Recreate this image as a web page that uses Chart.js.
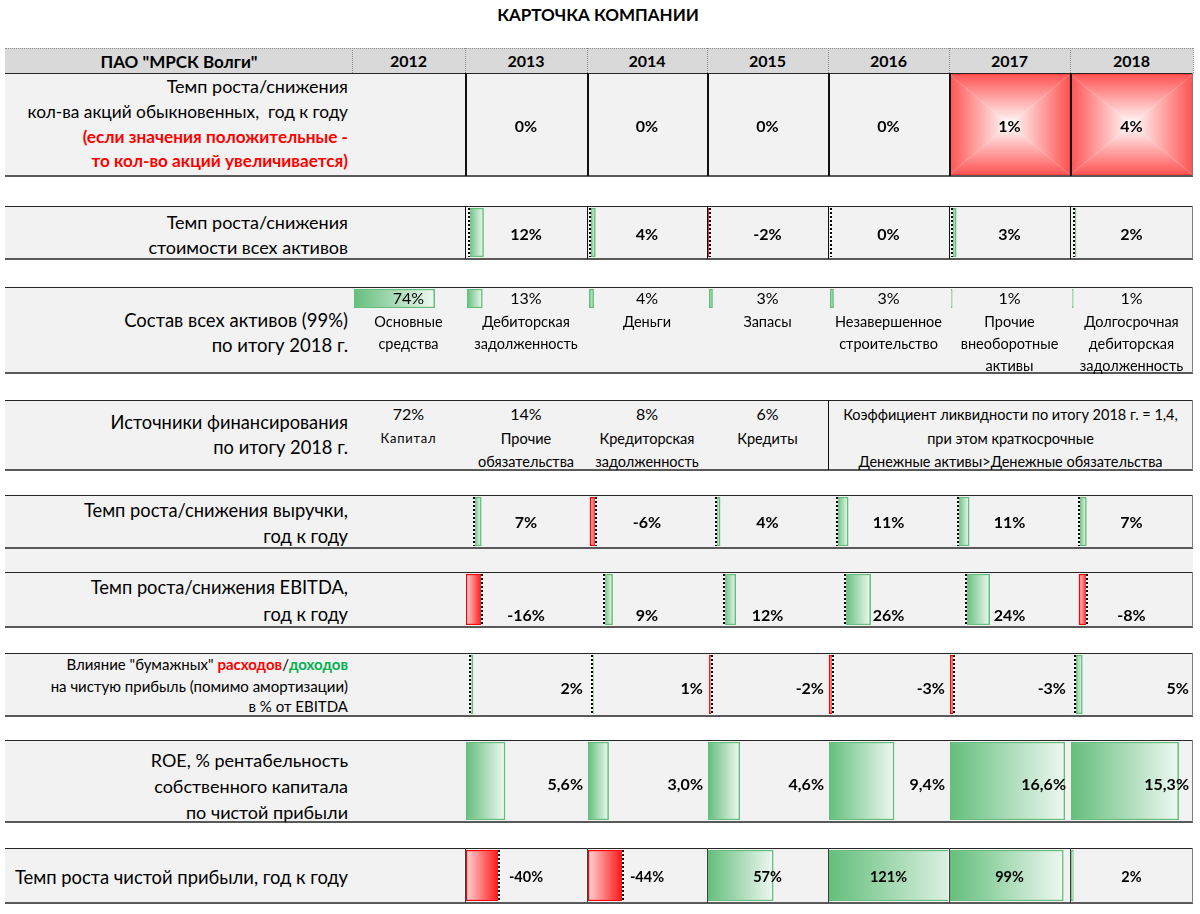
<!DOCTYPE html>
<html>
<head>
<meta charset="utf-8">
<script src="https://cdn.jsdelivr.net/npm/chart.js@4.4.1/dist/chart.umd.min.js"></script>
<style>
  body { margin: 0; background: #fff; font-family: Lato, "Noto Sans", sans-serif; }
  #card { position: relative; width: 1200px; height: 914px; overflow: hidden; }
  #card div, #card canvas { position: absolute; }
  .t { white-space: pre; line-height: 1; color: #000; }
</style>
</head>
<body>
<div id="card"></div>
<script>
// ===== DATA =====
const years = ["2012", "2013", "2014", "2015", "2016", "2017", "2018"];
const sharesGrowth = [null, 0, 0, 0, 0, 1, 4];
const assetsGrowth = [null, 12, 4, -2, 0, 3, 2];
const assetNames = ["Основные\nсредства", "Дебиторская\nзадолженность", "Деньги", "Запасы",
  "Незавершенное\nстроительство", "Прочие\nвнеоборотные\nактивы", "Долгосрочная\nдебиторская\nзадолженность"];
const assetShares = [74, 13, 4, 3, 3, 1, 1];
const fundingNames = ["Капитал", "Прочие\nобязательства", "Кредиторская\nзадолженность", "Кредиты"];
const fundingShares = [72, 14, 8, 6];
const liquidityNote = "Коэффициент ликвидности по итогу 2018 г. = 1,4,\nпри этом краткосрочные\nДенежные активы>Денежные обязательства";
const revenueGrowth = [null, 7, -6, 4, 11, 11, 7];
const ebitdaGrowth = [null, -16, 9, 12, 26, 24, -8];
const paperEffect = [null, 2, 1, -2, -3, -3, 5];
const roe = [null, 5.6, 3.0, 4.6, 9.4, 16.6, 15.3];
const netProfitGrowth = [null, -40, -44, 57, 121, 99, 2];

// ===== LAYOUT =====
const card = document.getElementById("card");
const colX = [5, 352, 465, 587, 707, 828, 949, 1070, 1193];
const GREEN = "#63be7b";
const RED = "#ff0000";

Chart.defaults.animation = false;
Chart.defaults.events = [];
Chart.defaults.plugins.legend.display = false;
Chart.defaults.plugins.tooltip.enabled = false;

function box(x, y, w, h, css) {
  const d = document.createElement("div");
  d.style.cssText = `left:${x}px;top:${y}px;width:${w}px;height:${h}px;${css || ""}`;
  card.appendChild(d);
  return d;
}

// text centred vertically on y; align: left / right / center around x
function text(str, x, y, o) {
  o = o || {};
  const d = document.createElement("div");
  d.className = "t";
  d.style.fontSize = (o.size || 16) + "px";
  d.style.fontWeight = o.bold ? "700" : "400";
  if (o.color) d.style.color = o.color;
  if (o.spacing) d.style.letterSpacing = o.spacing + "px";
  if (o.lh) d.style.lineHeight = o.lh + "px";
  d.style.top = y + "px";
  if (o.align === "right") {
    d.style.right = (1200 - x) + "px";
    d.style.textAlign = "right";
    d.style.transform = "translateY(-50%)";
  } else if (o.align === "left") {
    d.style.left = x + "px";
    d.style.transform = "translateY(-50%)";
  } else {
    d.style.left = x + "px";
    d.style.textAlign = "center";
    d.style.transform = "translate(-50%,-50%)";
  }
  if (o.html) d.innerHTML = str; else d.textContent = str;
  card.appendChild(d);
  return d;
}

function rowFrame(top, bottom) {
  box(colX[0], top, colX[8] - colX[0], bottom - top, "background:#f2f2f2");
}
function rowBorders(top, bottom) {
  box(colX[0], top, colX[8] - colX[0], 1, "background:#262626");
  box(colX[0], bottom - 1, colX[8] - colX[0], 2, "background:#595959");
  box(colX[8] - 1, top, 1, bottom - top, "background:#7f7f7f");
}
function separators(top, bottom, cols, css) {
  cols.forEach(c => box(colX[c], top, 1, bottom - top, css));
}
function colCenter(i) { return (colX[i + 1] + colX[i + 2]) / 2; }
function pct(v) { return v + "%"; }
function pct1(v) { return v.toFixed(1).replace(".", ",") + "%"; }

// ===== CHART.JS DATA BARS =====
const zeroAxis = {
  id: "zeroAxis",
  afterDatasetsDraw(chart) {
    const s = chart.scales.x;
    if (s.min >= 0) return;
    const x = Math.round(s.getPixelForValue(0));
    const { top, bottom } = chart.chartArea;
    const ctx = chart.ctx;
    ctx.save();
    ctx.fillStyle = "#ffffff";
    ctx.fillRect(x - 1, top, 2, bottom - top);
    ctx.strokeStyle = "#000";
    ctx.lineWidth = 2;
    ctx.setLineDash([2, 2]);
    ctx.beginPath();
    ctx.moveTo(x, top);
    ctx.lineTo(x, bottom);
    ctx.stroke();
    ctx.restore();
  }
};

function barFill(ctx) {
  const chart = ctx.chart;
  if (!chart.chartArea) return GREEN;
  const s = chart.scales.x;
  const v = ctx.raw;
  const x0 = s.getPixelForValue(0);
  const x1 = s.getPixelForValue(v);
  const g = chart.ctx.createLinearGradient(x0, 0, x1 === x0 ? x0 + 1 : x1, 0);
  if (v >= 0) {
    g.addColorStop(0, "#63be7b");
    g.addColorStop(1, "#eef8f1");
  } else {
    g.addColorStop(0, "#ff1010");
    g.addColorStop(1, "#ffd6d6");
  }
  return g;
}

function dataBar(x, y, w, h, value, min, max) {
  const canvas = document.createElement("canvas");
  canvas.width = w;
  canvas.height = h;
  canvas.style.cssText = `left:${x}px;top:${y}px;width:${w}px;height:${h}px`;
  card.appendChild(canvas);
  return new Chart(canvas.getContext("2d"), {
    type: "bar",
    data: {
      labels: [""],
      datasets: [{
        data: [value],
        backgroundColor: barFill,
        borderColor: c => (c.raw < 0 ? RED : GREEN),
        borderWidth: 1.5,
        borderSkipped: false,
        barPercentage: 1,
        categoryPercentage: 1
      }]
    },
    options: {
      indexAxis: "y",
      responsive: false,
      layout: { padding: 0 },
      scales: {
        x: { type: "linear", display: false, min: min, max: max },
        y: { display: false }
      }
    },
    plugins: [zeroAxis]
  });
}

// red "from centre" fill for cells where the share count grew
const growthCell = {
  id: "growthCell",
  beforeDatasetsDraw(chart) {
    const v = chart.data.datasets[0].data[0];
    if (!(v > 0)) return;
    const { left, top, right, bottom } = chart.chartArea;
    const cx = (left + right) / 2, cy = (top + bottom) / 2;
    const ctx = chart.ctx;
    const parts = [
      [[left, top], [right, top], [0, top, 0, cy]],
      [[right, bottom], [left, bottom], [0, bottom, 0, cy]],
      [[left, bottom], [left, top], [left, 0, cx, 0]],
      [[right, top], [right, bottom], [right, 0, cx, 0]]
    ];
    ctx.save();
    parts.forEach(([a, b, gl]) => {
      const g = ctx.createLinearGradient(gl[0], gl[1], gl[2], gl[3]);
      g.addColorStop(0, "#ff5252");
      g.addColorStop(1, "#ffffff");
      ctx.fillStyle = g;
      ctx.beginPath();
      ctx.moveTo(a[0], a[1]);
      ctx.lineTo(b[0], b[1]);
      ctx.lineTo(cx, cy);
      ctx.closePath();
      ctx.fill();
    });
    ctx.strokeStyle = "#ff4040";
    ctx.lineWidth = 1;
    ctx.strokeRect(left + 0.5, top + 0.5, right - left - 1, bottom - top - 1);
    ctx.restore();
  }
};

function heatCell(x, y, w, h, value) {
  const canvas = document.createElement("canvas");
  canvas.width = w;
  canvas.height = h;
  canvas.style.cssText = `left:${x}px;top:${y}px;width:${w}px;height:${h}px`;
  card.appendChild(canvas);
  return new Chart(canvas.getContext("2d"), {
    type: "bar",
    data: { labels: [""], datasets: [{ data: [value], backgroundColor: "transparent", borderWidth: 0 }] },
    options: {
      indexAxis: "y",
      responsive: false,
      layout: { padding: 0 },
      scales: { x: { display: false, min: 0, max: 1 }, y: { display: false } }
    },
    plugins: [growthCell]
  });
}

// one data bar per year cell of a row
function barRow(values, top, bottom, range) {
  values.forEach((v, i) => {
    if (v === null) return;
    const x = colX[i + 1] + 1;
    const w = colX[i + 2] - colX[i + 1] - 2;
    const min = typeof range.min === "function" ? range.min(v) : range.min;
    dataBar(x, top + 2, w, bottom - top - 4, v, min, range.max);
  });
}

// ===== TITLE & HEADER =====
text("КАРТОЧКА КОМПАНИИ", 598, 14, { size: 17, bold: true });

box(colX[0], 48, colX[8] - colX[0], 25, "background:#d9d9d9;border-top:1px dotted #8c8c8c;box-sizing:border-box");
for (let c = 1; c <= 8; c++) box(colX[c], 48, 1, 25, "border-left:1px dotted #8c8c8c;box-sizing:border-box");
text('ПАО "МРСК Волги"', 179, 61, { size: 17, bold: true });
years.forEach((y, i) => text(y, colCenter(i), 61, { size: 16, bold: true }));

// ===== ROW 1: share count growth =====
let R = [73, 176];
rowFrame(R[0], R[1]);
sharesGrowth.forEach((v, i) => {
  if (v === null) return;
  heatCell(colX[i + 1], R[0] + 1, colX[i + 2] - colX[i + 1], R[1] - R[0] - 2, v);
});
rowBorders(R[0], R[1]);
separators(R[0], R[1], [2, 3, 4, 5, 6, 7], "background:#111;width:1.5px");
text("Темп роста/снижения", 348, 86, { align: "right", size: 18 });
text("кол-ва акций обыкновенных,  год к году", 348, 112, { align: "right", size: 17.3 });
text("(если значения положительные -", 348, 137, { align: "right", size: 17.2, bold: true, color: "#ff0000" });
text("то кол-во акций увеличивается)", 348, 161, { align: "right", size: 17.2, bold: true, color: "#ff0000" });
sharesGrowth.forEach((v, i) => { if (v !== null) text(pct(v), colCenter(i), 126, { size: 16, bold: true }); });

// ===== ROW 2: total assets growth =====
R = [206, 259];
rowFrame(R[0], R[1]);
barRow(assetsGrowth, R[0], R[1], { min: -2, max: 94 });
rowBorders(R[0], R[1]);
separators(R[0], R[1], [2, 3, 4, 5, 6, 7], "background:#111");
text("Темп роста/снижения", 348, 222, { align: "right", size: 18 });
text("стоимости всех активов", 348, 247, { align: "right", size: 18 });
assetsGrowth.forEach((v, i) => { if (v !== null) text(pct(v), colCenter(i), 234, { size: 16, bold: true }); });

// ===== ROW 3: asset structure =====
R = [287, 373];
rowFrame(R[0], R[1]);
assetShares.forEach((v, i) => {
  dataBar(colX[i + 1] + 2, R[0] + 2, colX[i + 2] - colX[i + 1] - 4, 19, v, 0, 100);
});
rowBorders(R[0], R[1]);
text("Состав всех активов (99%)", 348, 320, { align: "right", size: 18.5 });
text("по итогу 2018 г.", 348, 345, { align: "right", size: 18.5 });
assetShares.forEach((v, i) => {
  text(pct(v), colCenter(i), 298, { size: 16 });
  const d = text(assetNames[i], colCenter(i), 322, { size: 14.5, lh: 22 });
  d.style.transform = "translate(-50%,-11px)";
});

// ===== ROW 4: funding sources =====
R = [400, 470];
rowFrame(R[0], R[1]);
rowBorders(R[0], R[1]);
separators(R[0], R[1], [5], "background:#111");
text("Источники финансирования", 348, 422, { align: "right", size: 18.3 });
text("по итогу 2018 г.", 348, 447, { align: "right", size: 18.3 });
fundingShares.forEach((v, i) => {
  text(pct(v), colCenter(i), 414, { size: 16 });
  const d = text(fundingNames[i], colCenter(i), 438, i === 0 ? { size: 13, spacing: 0.8, lh: 23 } : { size: 14.5, lh: 23 });
  d.style.transform = "translate(-50%,-11.5px)";
});
{
  const d = text(liquidityNote, (colX[5] + colX[8]) / 2, 414, { size: 14.5, lh: 23.5 });
  d.style.transform = "translate(-50%,-11.5px)";
}

// ===== ROW 5: revenue growth =====
R = [495, 548];
rowFrame(R[0], R[1]);
box(colX[0], R[1], colX[8] - colX[0], 572 - R[1], "background:#f2f2f2");
barRow(revenueGrowth, R[0], R[1], { min: -8, max: 110 });
rowBorders(R[0], R[1]);
text("Темп роста/снижения выручки,", 348, 510, { align: "right", size: 18.3 });
text("год к году", 348, 536, { align: "right", size: 18.3 });
revenueGrowth.forEach((v, i) => { if (v !== null) text(pct(v), colCenter(i), 522, { size: 16, bold: true }); });

// ===== ROW 6: EBITDA growth =====
R = [572, 627];
rowFrame(R[0], R[1]);
barRow(ebitdaGrowth, R[0], R[1], { min: -16, max: 104 });
rowBorders(R[0], R[1]);
text("Темп роста/снижения EBITDA,", 348, 587, { align: "right", size: 18.3 });
text("год к году", 348, 614, { align: "right", size: 18.3 });
ebitdaGrowth.forEach((v, i) => { if (v !== null) text(pct(v), colCenter(i), 615, { size: 16, bold: true }); });

// ===== ROW 7: paper expenses / income =====
R = [653, 716];
rowFrame(R[0], R[1]);
barRow(paperEffect, R[0], R[1], { min: -3, max: 83 });
rowBorders(R[0], R[1]);
text('Влияние "бумажных" <b style="color:#ff0000">расходов</b>/<b style="color:#00b050">доходов</b>', 348, 664, { align: "right", size: 15, html: true });
text("на чистую прибыль (помимо амортизации)", 348, 686, { align: "right", size: 15 });
text("в % от EBITDA", 348, 706, { align: "right", size: 15 });
paperEffect.forEach((v, i) => { if (v !== null) text(pct(v), colX[i + 2] - 4, 688, { align: "right", size: 16, bold: true }); });

// ===== ROW 8: ROE =====
R = [740, 822];
rowFrame(R[0], R[1]);
barRow(roe, R[0], R[1], { min: 0, max: 17.2 });
rowBorders(R[0], R[1]);
text("ROE, % рентабельность", 348, 760, { align: "right", size: 18 });
text("собственного капитала", 348, 786, { align: "right", size: 18 });
text("по чистой прибыли", 348, 812, { align: "right", size: 18 });
roe.forEach((v, i) => { if (v !== null) text(pct1(v), colX[i + 2] - 4, 784, { align: "right", size: 16, bold: true }); });

// ===== ROW 9: net profit growth =====
R = [848, 903];
rowFrame(R[0], R[1]);
barRow(netProfitGrowth, R[0], R[1], { min: v => Math.min(0, v), max: 104 });
rowBorders(R[0], R[1]);
separators(R[0], R[1], [2, 3, 4, 5, 6, 7], "background:#404040");
text("Темп роста чистой прибыли, год к году", 348, 877, { align: "right", size: 18.4 });
netProfitGrowth.forEach((v, i) => { if (v !== null) text(pct(v), colCenter(i), 877, { size: 14.5, bold: true }); });
</script>
</body>
</html>
